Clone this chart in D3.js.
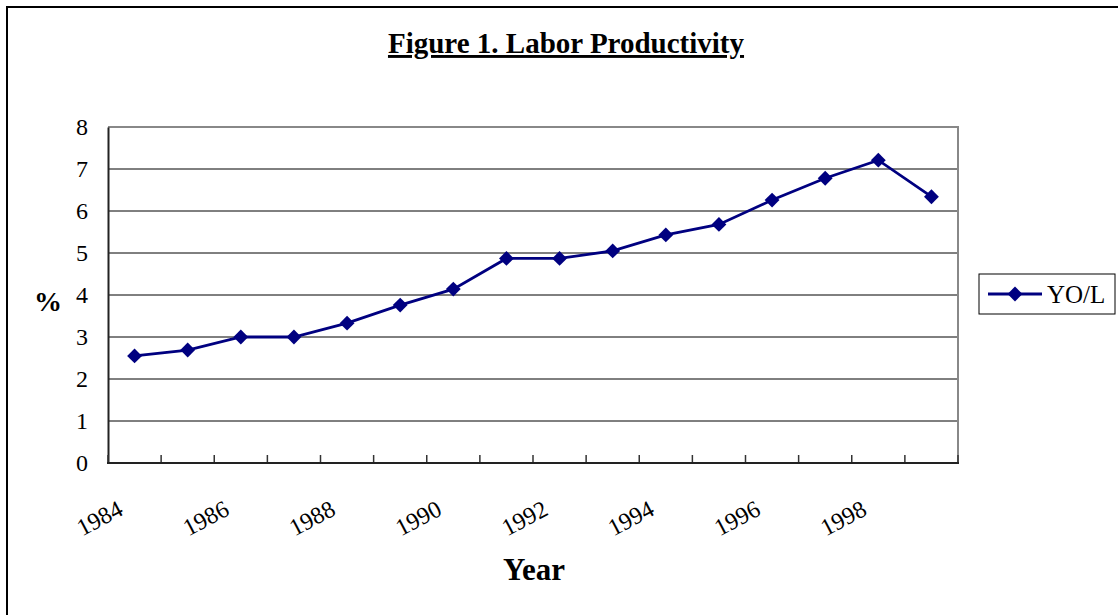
<!DOCTYPE html>
<meta charset="utf-8">
<script src="https://cdnjs.cloudflare.com/ajax/libs/d3/7.3.0/d3.min.js"></script>
<style>
  body { margin: 0; background: #fff; }
  text { font-family: "Liberation Serif", "Times New Roman", serif; }
</style>
<div id="my_dataviz"></div>
<script>

    // data
    const years = ["1984", "1985", "1986", "1987", "1988", "1989", "1990", "1991",
                   "1992", "1993", "1994", "1995", "1996", "1997", "1998", "1999"]
    const yol = [2.55, 2.69, 3.0, 3.0, 3.33, 3.76, 4.14, 4.87,
                 4.87, 5.05, 5.43, 5.68, 6.26, 6.78, 7.21, 6.34]
    const yTicks = [0, 1, 2, 3, 4, 5, 6, 7, 8]
    const seriesName = "YO/L"

    var W = 1118, H = 615
    var margin = { top: 127, right: 160, bottom: 152, left: 108 },
        width = 958 - margin.left,
        height = 463 - margin.top;

    var root = d3.select("#my_dataviz")
        .append("svg")
        .attr("width", W)
        .attr("height", H);

    // outer frame of the chart object
    root.append("rect")
        .attr("x", 7).attr("y", 7)
        .attr("width", W + 10).attr("height", H + 10)
        .attr("fill", "none")
        .attr("stroke", "#000")
        .attr("stroke-width", 2);

    // title
    root.append("text")
        .attr("x", 566).attr("y", 53)
        .attr("text-anchor", "middle")
        .attr("font-size", "29px")
        .attr("font-weight", "bold")
        .attr("text-decoration", "underline")
        .text("Figure 1. Labor Productivity");

    var svg = root.append("g")
        .attr("transform", "translate(" + margin.left + "," + margin.top + ")");

    var x = d3.scaleBand()
        .domain(years)
        .range([0, width])
        .padding(0);

    var y = d3.scaleLinear()
        .domain([0, 8])
        .range([height, 0]);

    // gridlines
    svg.append("g")
        .selectAll("line")
        .data(yTicks.filter(function (d) { return d > 0 && d < 8; }))
        .enter().append("line")
        .attr("x1", 0).attr("x2", width)
        .attr("y1", function (d) { return y(d); })
        .attr("y2", function (d) { return y(d); })
        .attr("stroke", "#000")
        .attr("stroke-width", 1);

    // top and right border (grey)
    svg.append("path")
        .attr("d", "M0,0H" + width + "V" + height)
        .attr("fill", "none")
        .attr("stroke", "#888")
        .attr("stroke-width", 2);

    // y axis
    var yAxis = svg.append("g")
        .call(d3.axisLeft(y).tickValues(yTicks).tickSize(0).tickPadding(20));
    yAxis.select(".domain").attr("stroke", "#222").attr("stroke-width", 2);
    yAxis.selectAll("text")
        .attr("font-family", "Liberation Serif")
        .attr("font-size", "24px")
        .attr("fill", "#000");

    // x axis: inside ticks at category edges
    var edges = years.map(function (d) { return x(d); }).concat([width]);
    var xAxis = svg.append("g")
        .attr("transform", "translate(0," + height + ")");
    xAxis.selectAll("line")
        .data(edges)
        .enter().append("line")
        .attr("x1", function (d) { return d; })
        .attr("x2", function (d) { return d; })
        .attr("y1", 0).attr("y2", -8)
        .attr("stroke", "#333")
        .attr("stroke-width", 1.5);
    xAxis.append("line")
        .attr("x1", -1).attr("x2", width + 1)
        .attr("stroke", "#222")
        .attr("stroke-width", 2);

    xAxis.selectAll("text")
        .data(years.filter(function (d, i) { return i % 2 === 0; }))
        .enter().append("text")
        .attr("text-anchor", "end")
        .attr("font-size", "24px")
        .attr("transform", function (d) {
            var px = x(d) + x.bandwidth() / 2 - 10;
            return "translate(" + px + ",51) rotate(-28)";
        })
        .text(function (d) { return d; });

    // axis titles
    root.append("text")
        .attr("x", 48).attr("y", 311)
        .attr("text-anchor", "middle")
        .attr("font-size", "28px")
        .attr("font-weight", "bold")
        .text("%");

    root.append("text")
        .attr("x", 534).attr("y", 580)
        .attr("text-anchor", "middle")
        .attr("font-size", "31px")
        .attr("font-weight", "bold")
        .text("Year");

    // series line
    var line = d3.line()
        .x(function (d, i) { return x(years[i]) + x.bandwidth() / 2; })
        .y(function (d) { return y(d); });

    svg.append("path")
        .datum(yol)
        .attr("fill", "none")
        .attr("stroke", "#000080")
        .attr("stroke-width", 2.8)
        .attr("d", line);

    var diamond = d3.symbol().type(d3.symbolDiamond2).size(140);

    svg.selectAll(".pt")
        .data(yol)
        .enter().append("path")
        .attr("class", "pt")
        .attr("d", diamond)
        .attr("fill", "#000080")
        .attr("transform", function (d, i) {
            return "translate(" + (x(years[i]) + x.bandwidth() / 2) + "," + y(d) + ")";
        });

    // legend
    var lg = root.append("g").attr("transform", "translate(979,274)");
    lg.append("rect")
        .attr("width", 136).attr("height", 40)
        .attr("fill", "#fff")
        .attr("stroke", "#000")
        .attr("stroke-width", 1);
    lg.append("line")
        .attr("x1", 9).attr("x2", 63)
        .attr("y1", 20).attr("y2", 20)
        .attr("stroke", "#000080")
        .attr("stroke-width", 2.8);
    lg.append("path")
        .attr("d", diamond)
        .attr("fill", "#000080")
        .attr("transform", "translate(36,20)");
    lg.append("text")
        .attr("x", 68).attr("y", 29)
        .attr("font-size", "25px")
        .text(seriesName);

</script>
